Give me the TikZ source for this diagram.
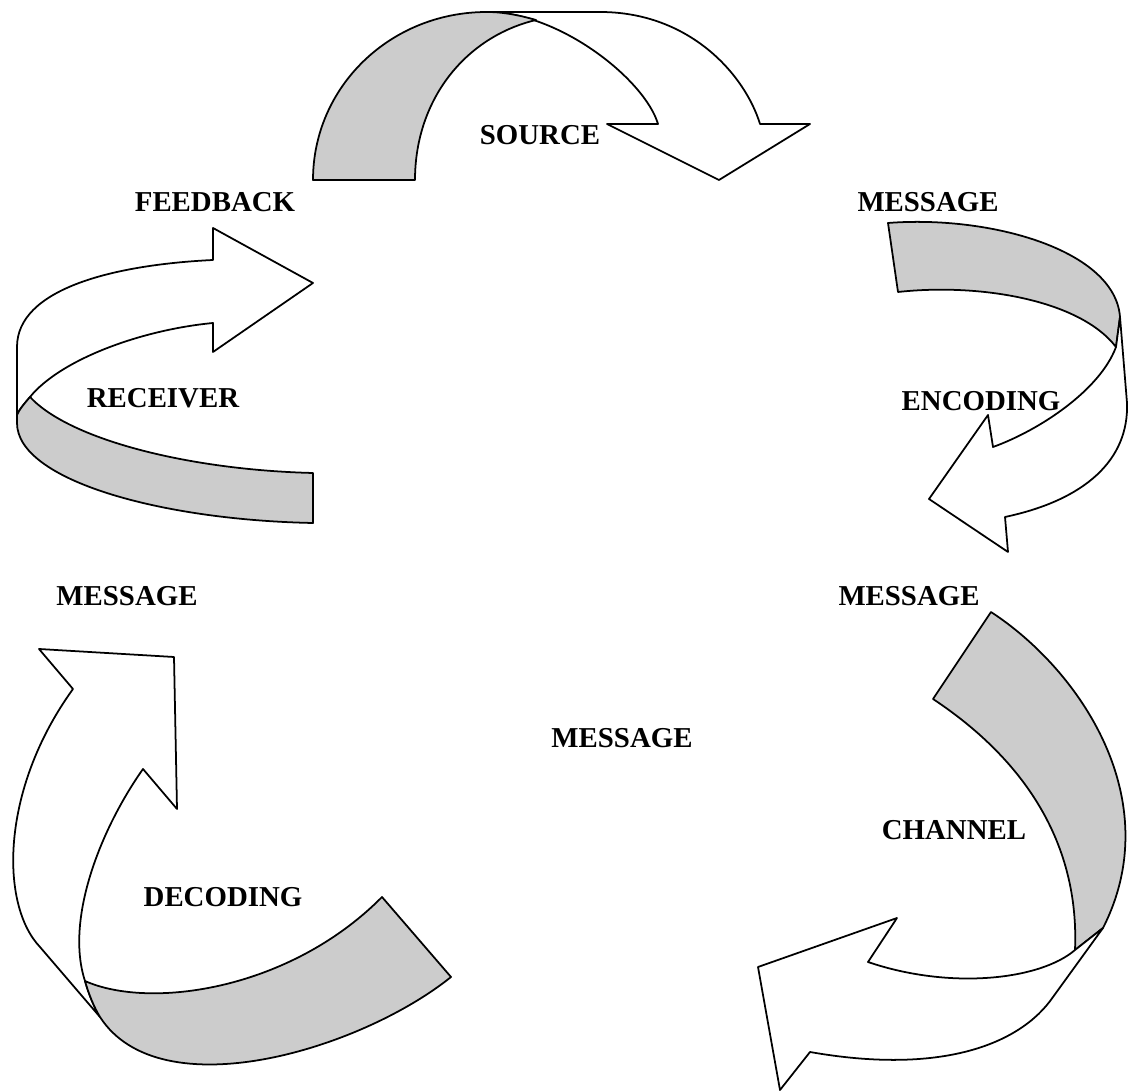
\documentclass[tikz,border=0pt]{standalone}
\usepackage{fontspec}
\setmainfont{Liberation Serif}
\definecolor{shade}{HTML}{CCCCCC}
\begin{document}
\begin{tikzpicture}[x=0.01cm,y=-0.01cm,
  band/.style={draw=black, line width=0.5pt, line join=round},
  front/.style={band, fill=white},
  back/.style={band, fill=shade},
  lbl/.style={font=\fontsize{8.2}{10}\selectfont\bfseries, inner sep=0pt}]
\useasboundingbox (0,0) rectangle (1130,1092);

% top ribbon: source
\draw[front] (487,12) -- (600,12) .. controls (690,12) and (745,75) .. (760,124)
  -- (810,124) -- (719,180) -- (607,124) -- (658,124)
  .. controls (645,80) and (560,12) .. (487,12) -- cycle;
\draw[back] (313,180) .. controls (313,87) and (390,12) .. (487,12)
  .. controls (505,12) and (522,16) .. (536,20)
  .. controls (465,37) and (415,100) .. (415,180) -- cycle;

% right ribbon: encoding
\draw[back] (888,223) .. controls (990,215) and (1115,250) .. (1120,317)
  -- (1116,347) .. controls (1080,300) and (980,283) .. (898,292) -- cycle;
\draw[front] (1120,317) -- (1127,403) .. controls (1129,460) and (1085,500) .. (1005,517)
  -- (1008,552) -- (929,499) -- (988,415) -- (993,447)
  .. controls (1040,430) and (1100,390) .. (1116,347) -- cycle;

% left ribbon: receiver / feedback
\draw[front] (213,228) -- (313,283) -- (213,352) -- (213,323)
  .. controls (140,330) and (60,360) .. (30,397)
  .. controls (24,404) and (19,410) .. (17,415) -- (17,347)
  .. controls (17,290) and (110,265) .. (213,260) -- cycle;
\draw[back] (30,397) .. controls (24,404) and (19,410) .. (17,415) -- (17,423)
  .. controls (17,480) and (160,520) .. (313,523) -- (313,473)
  .. controls (190,470) and (70,440) .. (30,397) -- cycle;

% bottom-left ribbon: decoding
\draw[front] (39,649) -- (174,657) -- (177,809) -- (143,769)
  .. controls (100,830) and (65,920) .. (85,981)
  .. controls (89,995) and (94,1007) .. (100,1017) -- (40,947)
  .. controls (0,905) and (0,790) .. (73,689) -- cycle;
\draw[back] (85,981) .. controls (150,1010) and (290,990) .. (382,897)
  -- (451,977) .. controls (360,1050) and (160,1110) .. (100,1017)
  .. controls (94,1007) and (89,995) .. (85,981) -- cycle;

% bottom-right ribbon: channel
\draw[back] (991,612) .. controls (1080,670) and (1168,800) .. (1103,928)
  -- (1075,950) .. controls (1080,830) and (1010,750) .. (933,699) -- cycle;
\draw[front] (1103,928) -- (1053,997) .. controls (1020,1045) and (940,1075) .. (810,1052)
  -- (780,1090) -- (758,967) -- (897,918) -- (868,962)
  .. controls (950,990) and (1040,980) .. (1075,950) -- cycle;

% labels
\node[lbl] (source)   at (540,135) {SOURCE};
\node[lbl] (feedback) at (215,202) {FEEDBACK};
\node[lbl] (msgA)     at (928,202) {MESSAGE};
\node[lbl] (encoding) at (981,401) {ENCODING};
\node[lbl] (receiver) at (163,398) {RECEIVER};
\node[lbl] (msgD)     at (127,596) {MESSAGE};
\node[lbl] (msgB)     at (909,596) {MESSAGE};
\node[lbl] (channel)  at (954,830) {CHANNEL};
\node[lbl] (decoding) at (223,897) {DECODING};
\node[lbl] (msgC)     at (622,738) {MESSAGE};
\end{tikzpicture}
\end{document}
